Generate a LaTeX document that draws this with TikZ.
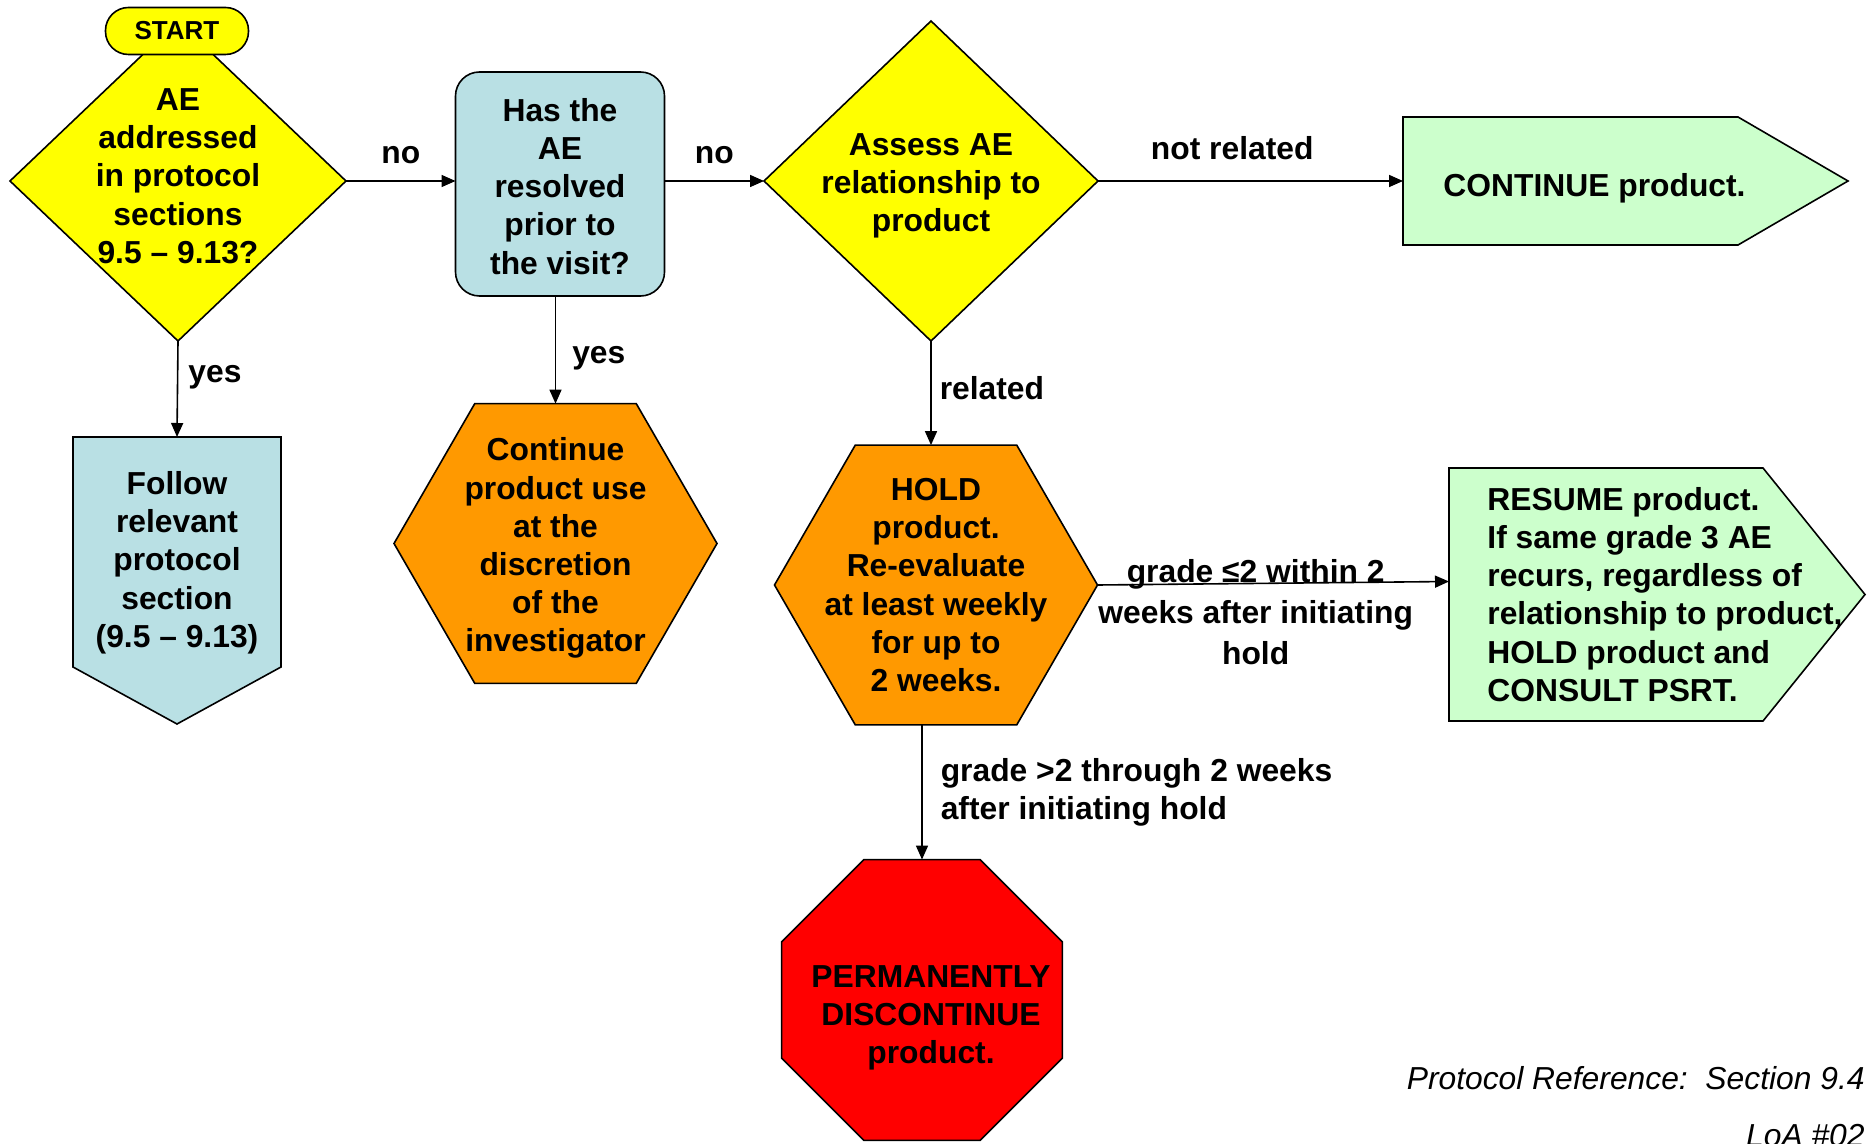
\documentclass[tikz,border=0pt]{standalone}
\usepackage{fontspec}
\setmainfont{Liberation Sans}
\usetikzlibrary{shapes.geometric,arrows.meta}
\pgfdeclarelayer{bg}
\pgfsetlayers{bg,main}
\definecolor{aeyellow}{RGB}{255,255,0}
\definecolor{aeorange}{RGB}{255,153,0}
\definecolor{aered}{RGB}{255,0,0}
\definecolor{aegreen}{RGB}{204,255,204}
\definecolor{aeblue}{RGB}{185,224,228}

\begin{document}
\begin{tikzpicture}[x=0.5pt,y=-0.5pt,
  every node/.style={font=\bfseries\fontsize{15.9}{19.1}\selectfont},
  shp/.style={draw=black, line width=0.8pt, inner sep=0pt, outer sep=0pt},
  txt/.style={align=center, inner sep=0pt},
  lbl/.style={inner sep=0pt},
  foot/.style={inner sep=0pt, anchor=base east, font=\mdseries\itshape\fontsize{15.9}{19.1}\selectfont},
  arr/.style={-{Triangle[length=7pt,width=6pt]}, line width=0.8pt},
  ask/.style={shp, diamond, fill=aeyellow},
  hexa/.style={shp, regular polygon, regular polygon sides=6, minimum size=161.5pt, fill=aeorange},
  plate/.style={inner sep=0pt, outer sep=0pt},
  plateline/.style={draw=black, line width=0.8pt}]
  \useasboundingbox (0,0) rectangle (1872,1144);

  % questions
  \node[ask, minimum width=168pt, minimum height=160pt,
    label={[txt,yshift=2.4pt]center:{AE\\addressed\\in protocol\\sections\\9.5 – 9.13?}}] (q1) at (178,181) {};
  \node[shp, fill=aeyellow, rounded corners=11.5pt, minimum width=71.5pt, minimum height=23.5pt,
    font=\bfseries\fontsize{13}{15}\selectfont] (start) at (177,31) {START};
  \node[shp, fill=aeblue, rounded corners=12pt, minimum width=104.5pt, minimum height=112pt,
    label={[txt,yshift=-1.2pt]center:{Has the\\AE\\resolved\\prior to\\the visit?}}] (q2) at (560,184) {};
  \node[ask, minimum width=167pt, minimum height=160pt,
    label={[txt,yshift=-2.4pt]center:{Assess AE\\relationship to\\product}}] (q3) at (931,181) {};

  % outcomes
  \node[plate, minimum width=167.5pt, minimum height=64pt,
    label={[txt,xshift=12pt,yshift=-3.6pt]center:CONTINUE product.}] (cont) at (1570.5,181) {};
  \node[plate, minimum width=104pt, minimum height=115pt,
    label={[txt,yshift=-5.3pt]center:{Follow\\relevant\\protocol\\section\\(9.5 – 9.13)}}] (follow) at (177,552) {};
  \node[hexa, label={[txt,yshift=-2.4pt]center:{Continue\\product use\\at the\\discretion\\of the\\investigator}}] (goon) at (555.5,543.5) {};
  \node[hexa, label={[txt]center:{HOLD\\product.\\Re-evaluate\\at least weekly\\for up to\\2 weeks.}}] (hold) at (936,585) {};
  \node[plate, minimum width=157pt, minimum height=126.5pt,
    label={[txt,align=left,anchor=west,xshift=19pt]west:{RESUME product.\\If same grade 3 AE\\recurs, regardless of\\relationship to product,\\HOLD product and\\CONSULT PSRT.}}] (resume) at (1606,594.5) {};
  \node[shp, regular polygon, regular polygon sides=8, minimum size=152pt, fill=aered,
    label={[txt,xshift=4.5pt,yshift=-9pt]center:{PERMANENTLY\\DISCONTINUE\\product.}}] (stop) at (922,1000) {};

  \begin{pgfonlayer}{bg}
    \draw[plateline, fill=aegreen] (cont.north west) -- (cont.north east) -- ([xshift=55pt]cont.east)
      -- (cont.south east) -- (cont.south west) -- cycle;
    \draw[plateline, fill=aegreen] (resume.north west) -- (resume.north east) -- ([xshift=51pt]resume.east)
      -- (resume.south east) -- (resume.south west) -- cycle;
    \draw[plateline, fill=aeblue] (follow.north west) -- (follow.north east) -- (follow.south east)
      -- ([yshift=-28.5pt]follow.south) -- (follow.south west) -- cycle;
  \end{pgfonlayer}

  \draw[arr] (q1.east) -- (q1.east -| q2.west) node[lbl, midway, above=8pt] {no};
  \draw[arr] (q2.east |- q3.west) -- (q3.west) node[lbl, midway, above=8pt] {no};
  \draw[arr] (q3.east) -- (cont.west) node[lbl, pos=0.44, above=10pt] {not related};
  \draw[arr] (q1.south) -- (follow.north) node[lbl, pos=0.38, right=5pt] {yes};
  \draw[arr] (goon.north |- q2.south) -- (goon.north) node[lbl, pos=0.58, right=8pt] {yes};
  \draw[arr] (q3.south) -- (q3.south |- hold.north) node[lbl, pos=0.45, right=4pt] {related};
  \draw[arr] (hold.east) -- ([yshift=6.5pt]resume.west)
    node[lbl, pos=0.45, anchor=north, yshift=12.5pt, align=center] {grade ≤2 within 2\\[1.5pt]weeks after initiating\\[1.5pt]hold};
  \draw[arr] (stop.north |- hold.south) -- (stop.north)
    node[lbl, pos=0.5, right=9pt, align=left] {grade >2 through 2 weeks\\after initiating hold};

  \node[foot] (ref) at (1865,1089) {Protocol Reference:\ \ Section 9.4};
  \node[foot] (loa) at (1865,1146) {LoA \#02};
\end{tikzpicture}
\end{document}
